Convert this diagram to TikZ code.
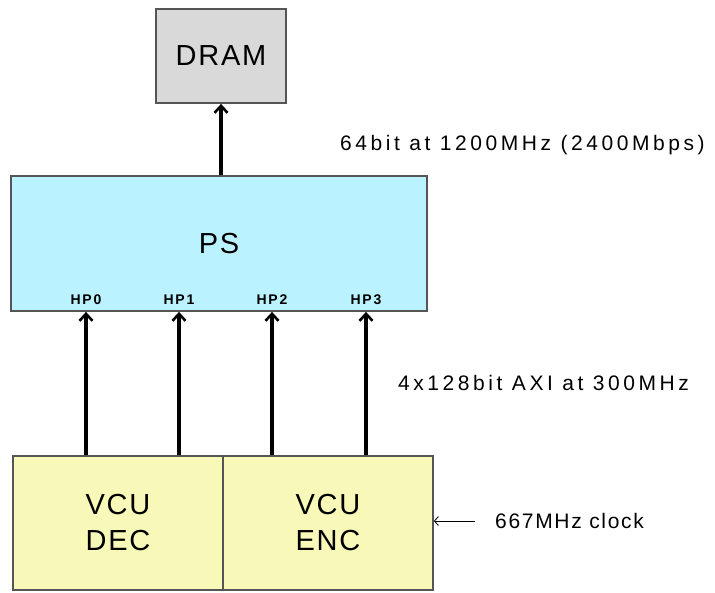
\documentclass[tikz,border=0pt]{standalone}
\usepackage{fontspec}
\setmainfont{Liberation Sans}
\usetikzlibrary{positioning,calc,arrows.meta}

\definecolor{dramgray}{HTML}{D9D9D9}
\definecolor{pscyan}{HTML}{BBF2FF}
\definecolor{vcuyellow}{HTML}{F8F8B8}
\definecolor{edgegray}{HTML}{555555}

\tikzset{
  blk/.style={draw=edgegray, line width=1.8pt, align=center, inner sep=0pt,
    font=\fontsize{29}{36}\selectfont\addfontfeature{LetterSpace=6}},
  hplbl/.style={font=\fontsize{14}{16}\selectfont\bfseries\addfontfeature{LetterSpace=12}, inner sep=1pt},
  buslbl/.style={font=\fontsize{21}{24}\selectfont\addfontfeature{LetterSpace=17}, inner sep=0pt, anchor=west},
  bus/.style={line width=3.2pt, -{Straight Barb[length=7pt,width=13pt,line width=2.6pt]}}
}

\begin{document}
\begin{tikzpicture}[x=1pt, y=-1pt, >=Stealth]
  \useasboundingbox (0,0) rectangle (715,592);
  % boxes
  \node[blk, fill=dramgray, minimum width=130pt, minimum height=94pt] (dram) at (221,56) {DRAM};
  \node[blk, fill=pscyan, minimum width=416pt, minimum height=135pt] (ps) at (219,243.5) {PS};
  \node[blk, fill=vcuyellow, minimum width=210pt, minimum height=134pt] (dec) at (118,523) {VCU\\DEC};
  \node[blk, fill=vcuyellow, minimum width=210pt, minimum height=134pt] (enc) at (328,523) {VCU\\ENC};
  % HP ports and AXI links
  \foreach \i/\x in {0/86,1/179,2/272,3/366} {
    \node[hplbl, anchor=south] (hp\i) at (\x,306) {HP\i};
  }
  \foreach \i in {0,1} \draw[bus] (dec.north -| hp\i) -- (ps.south -| hp\i);
  \foreach \i in {2,3} \draw[bus] (enc.north -| hp\i) -- (ps.south -| hp\i);
  \draw[bus] (ps.north -| dram) -- (dram.south);
  % labels
  \node[buslbl] (ddrlbl) at (340,145) {64bit at 1200MHz (2400Mbps)};
  \node[buslbl] (axilbl) at (398,383) {4x128bit AXI at 300MHz};
  \node[buslbl, font=\fontsize{21}{24}\selectfont\addfontfeature{LetterSpace=8}] (clklbl) at (495,521) {667MHz clock};
  \draw[line width=0.8pt, -{Straight Barb[length=4pt,width=9pt]}] ([xshift=-20pt]clklbl.west) -- (enc.east |- clklbl.west);
\end{tikzpicture}
\end{document}
